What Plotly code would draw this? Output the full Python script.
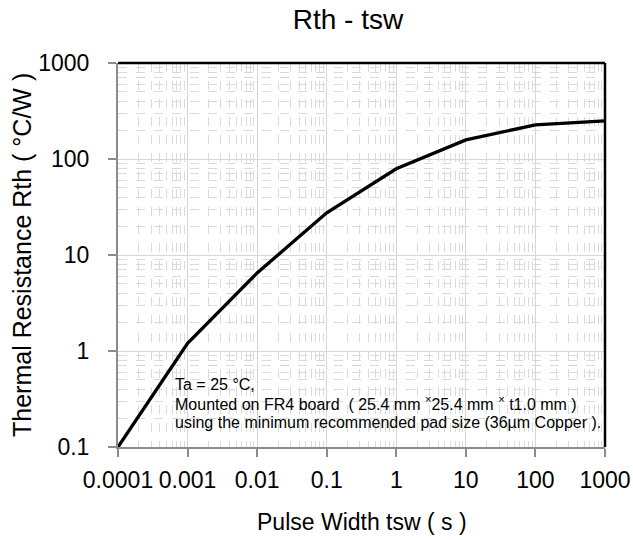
import plotly.graph_objects as go

pulse_width = [0.0001, 0.001, 0.01, 0.1, 1, 10, 100, 1000]
rth = [0.1, 1.2, 6.5, 27.5, 79, 158, 227, 249]

x_tick_vals = [0.0001, 0.001, 0.01, 0.1, 1, 10, 100, 1000]
x_tick_text = ["0.0001", "0.001", "0.01", "0.1", "1", "10", "100", "1000"]
y_tick_vals = [0.1, 1, 10, 100, 1000]
y_tick_text = ["0.1", "1", "10", "100", "1000"]

note_lines = [
    "Ta = 25 °C,",
    "Mounted on FR4 board  ( 25.4 mm <sup>×</sup>25.4 mm <sup>×</sup> t1.0 mm )",
    "using the minimum recommended pad size (36µm Copper ).",
]
note_y = [0.164, 0.1146, 0.065]

FONT = "Liberation Sans, Arial, sans-serif"

fig = go.Figure()
fig.add_trace(go.Scatter(x=pulse_width, y=rth, mode="lines",
                         line=dict(color="black", width=3.3), showlegend=False))

axis_common = dict(
    type="log",
    automargin=False,
    showline=True, linecolor="#8c8c8c", linewidth=2,
    ticks="outside", ticklen=8, tickcolor="#8c8c8c", tickwidth=2,
    showgrid=True, gridcolor="#d6d6d6", gridwidth=1,
    zeroline=False,
    tickfont=dict(family=FONT, size=23, color="black"),
    minor=dict(dtick="D1", showgrid=True, gridcolor="#dadada", griddash="dash", gridwidth=1, ticks=""),
)

fig.update_xaxes(**axis_common, range=[-4, 3], tickvals=x_tick_vals, ticktext=x_tick_text,
                 ticklabelstandoff=3)
fig.update_yaxes(**axis_common, range=[-1, 3], tickvals=y_tick_vals, ticktext=y_tick_text,
                 ticklabelstandoff=14)

# black top & right border
fig.add_shape(type="line", xref="paper", yref="paper", x0=0, x1=1, y0=1, y1=1, line=dict(color="black", width=2.5))
fig.add_shape(type="line", xref="paper", yref="paper", x0=1, x1=1, y0=0, y1=1, line=dict(color="black", width=2.5))

for txt, yy in zip(note_lines, note_y):
    fig.add_annotation(xref="paper", yref="paper", x=0.113, y=yy, xanchor="left", yanchor="middle",
                       text=txt, showarrow=False, align="left",
                       font=dict(family=FONT, size=16, color="black"))

# axis titles
fig.add_annotation(xref="paper", yref="paper", x=0.5, y=-(522 - 447) / 384, xanchor="center", yanchor="middle",
                   text="Pulse Width tsw ( s )", showarrow=False,
                   font=dict(family=FONT, size=23, color="black"))
fig.add_annotation(xref="paper", yref="paper", x=-(118 - 22) / 487, y=0.5, xanchor="center", yanchor="middle",
                   text="Thermal Resistance Rth ( °C/W )", showarrow=False, textangle=-90,
                   font=dict(family=FONT, size=25, color="black"))

fig.update_layout(
    width=633, height=540,
    margin=dict(l=118, r=28, t=63, b=93, autoexpand=False),
    paper_bgcolor="white", plot_bgcolor="white",
    title=dict(text="Rth - tsw", x=348 / 633, xref="container", xanchor="center",
               y=1 - 19 / 540, yref="container", yanchor="middle",
               font=dict(family=FONT, size=28, color="black")),
)

fig.write_html("out.html", config={"displayModeBar": False},
               post_script="document.body.style.margin='0';")
